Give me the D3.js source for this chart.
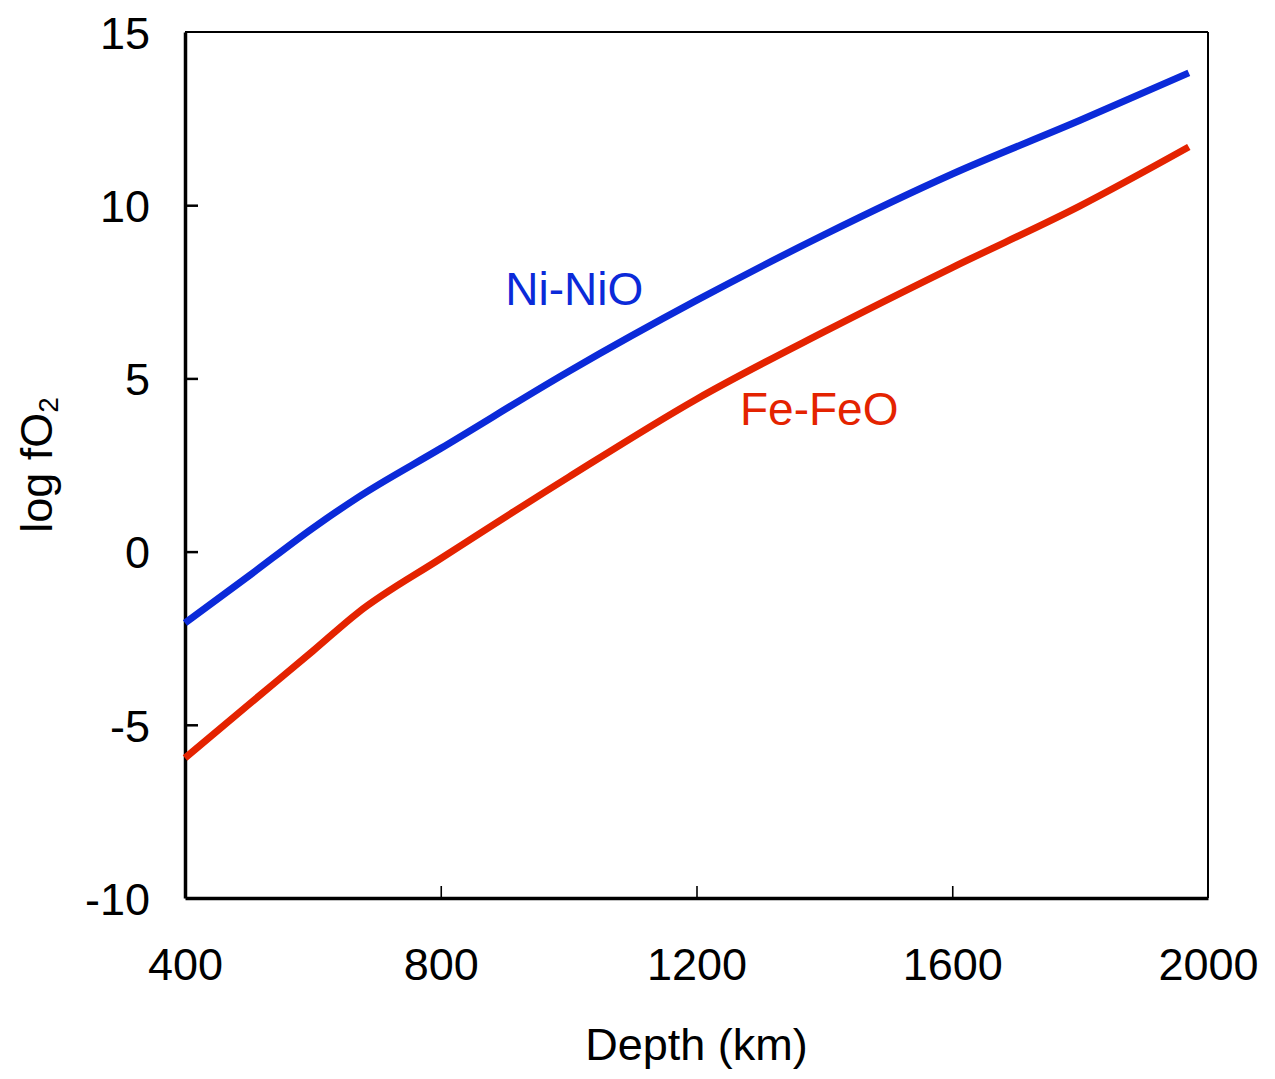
<!DOCTYPE html>
<html lang="en">

<head>
    <meta charset="UTF-8">
    <title>log fO2 vs Depth</title>
    <style>
        body {
            margin: 0;
            padding: 0;
            background: #fff;
            overflow: hidden;
        }

        svg text {
            font-family: "Liberation Sans", Arial, sans-serif;
        }
    </style>
</head>

<body>
    <script src="https://d3js.org/d3.v7.min.js"></script>
    <script>
        // Chart data
        const depths = [400, 500, 600, 670, 800, 1000, 1200, 1400, 1600, 1800, 1970];
        const niNiO = [-2.06, -0.7, 0.68, 1.56, 2.98, 5.2, 7.25, 9.15, 10.9, 12.45, 13.82];
        const feFeO = [-5.96, -4.41, -2.87, -1.77, -0.2, 2.15, 4.4, 6.35, 8.2, 9.98, 11.68];

        const xTicks = [400, 800, 1200, 1600, 2000];
        const yTicks = [-10, -5, 0, 5, 10, 15];

        const width = 1275;
        const height = 1079;
        const margin = { top: 32, right: 67, bottom: 181, left: 185 };

        const svg = d3.select("body").append("svg")
            .attr("width", width)
            .attr("height", height);

        const x = d3.scaleLinear()
            .domain([400, 2000])
            .range([margin.left, width - margin.right]);

        const y = d3.scaleLinear()
            .domain([-10, 15])
            .range([height - margin.bottom, margin.top]);

        // plain integers with a hyphen for negatives
        const fmt = d => String(d);

        // Frame: top and right thinner than the axes
        svg.append("line")
            .attr("x1", x(400)).attr("x2", x(2000))
            .attr("y1", y(15)).attr("y2", y(15))
            .attr("stroke", "#000").attr("stroke-width", 2);
        svg.append("line")
            .attr("x1", x(2000)).attr("x2", x(2000))
            .attr("y1", y(15)).attr("y2", y(-10))
            .attr("stroke", "#000").attr("stroke-width", 2);

        // X axis, ticks pointing inward
        const xAxis = svg.append("g")
            .attr("transform", `translate(0,${y(-10)})`)
            .call(d3.axisBottom(x).tickValues(xTicks).tickFormat(fmt)
                .tickSizeInner(-12).tickSizeOuter(0).tickPadding(0));
        xAxis.select(".domain").attr("stroke-width", 3.5);
        xAxis.selectAll(".tick line").attr("stroke-width", 1.6)
            .filter(d => d === 400 || d === 2000).remove();
        xAxis.selectAll(".tick text")
            .attr("y", 82)
            .attr("dy", null)
            .attr("font-size", 45)
            .attr("fill", "#000");

        // Y axis, ticks pointing inward
        const yAxis = svg.append("g")
            .attr("transform", `translate(${x(400)},0)`)
            .call(d3.axisLeft(y).tickValues(yTicks).tickFormat(fmt)
                .tickSizeInner(-13).tickSizeOuter(0).tickPadding(0));
        yAxis.select(".domain").attr("stroke-width", 3.5);
        yAxis.selectAll(".tick line").attr("stroke-width", 2.5)
            .filter(d => d === 15 || d === -10).remove();
        yAxis.selectAll(".tick text")
            .attr("x", -35)
            .attr("dy", "0.36em")
            .attr("font-size", 45)
            .attr("fill", "#000");

        // Axis titles
        svg.append("text")
            .attr("x", x(1200))
            .attr("y", 1060)
            .attr("text-anchor", "middle")
            .attr("font-size", 45)
            .text("Depth (km)");

        const yTitle = svg.append("text")
            .attr("transform", `translate(52,${(y(-10) + y(15)) / 2}) rotate(-90)`)
            .attr("text-anchor", "middle")
            .attr("font-size", 45);
        yTitle.append("tspan").text("log fO");
        yTitle.append("tspan").attr("font-size", 28).attr("dy", 6).text("2");

        // Buffer curves
        const line = d3.line()
            .x((d, i) => x(depths[i]))
            .y(d => y(d))
            .curve(d3.curveMonotoneX);

        svg.append("path")
            .datum(niNiO)
            .attr("d", line)
            .attr("fill", "none")
            .attr("stroke", "#0b2ad9")
            .attr("stroke-width", 7);

        svg.append("path")
            .datum(feFeO)
            .attr("d", line)
            .attr("fill", "none")
            .attr("stroke", "#e42300")
            .attr("stroke-width", 7);

        // Curve labels
        svg.append("text")
            .attr("x", x(901))
            .attr("y", y(7.12))
            .attr("font-size", 46)
            .attr("fill", "#0b2ad9")
            .text("Ni-NiO");

        svg.append("text")
            .attr("x", x(1268))
            .attr("y", y(3.65))
            .attr("font-size", 46)
            .attr("fill", "#e42300")
            .text("Fe-FeO");
    </script>
</body>

</html>
